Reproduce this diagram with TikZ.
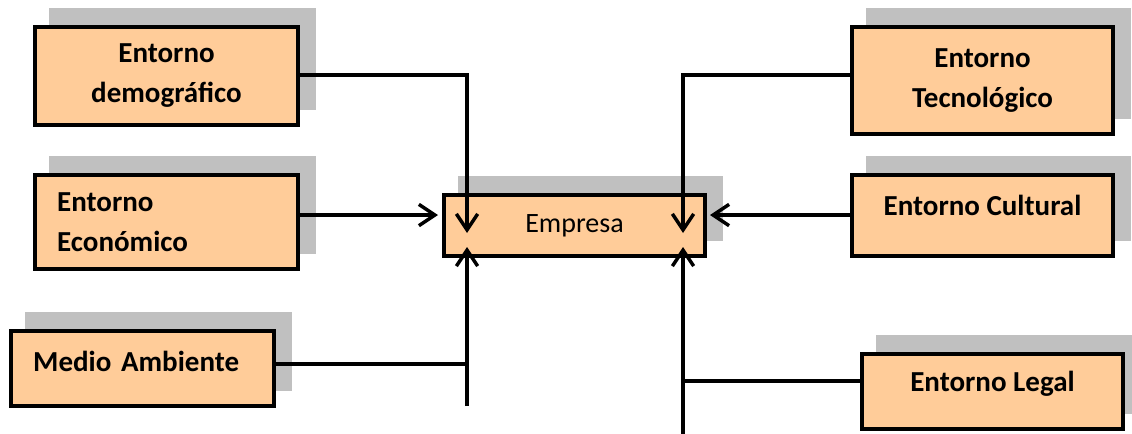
\documentclass[tikz,border=0pt]{standalone}
\usepackage{fontspec}
\setmainfont{Carlito}
\usetikzlibrary{arrows.meta,shadows}
\definecolor{boxfill}{HTML}{FFCC99}
\definecolor{shadowfill}{HTML}{C0C0C0}
\newcommand{\liftText}[2]{\raisebox{#1}[\height][\depth]{#2}}
\tikzset{
  envbox/.style={shape=rectangle, draw=black, fill=boxfill, line width=3.4pt,
    minimum width=197pt, inner sep=0pt,
    font=\fontsize{21.75}{30}\selectfont\bfseries,
    drop shadow={shadow xshift=12pt, shadow yshift=12.75pt, fill=shadowfill, draw=shadowfill, opacity=1}},
  leftbox/.style={envbox, align=left, text width=164pt},
  link/.style={line width=2.6pt},
  arrowlink/.style={link, -{Straight Barb[length=12pt,width=16pt]}}
}
\begin{document}
\begin{tikzpicture}[x=0.75pt,y=-0.75pt]
    \useasboundingbox (0,0) rectangle (1132,433);

    % boxes
    \node[envbox, minimum height=73.5pt, align=center] (demo) at (166.5,76) {Entorno\\demográfico};
    \node[leftbox, minimum height=70.5pt] (econ) at (166.5,222) {Entorno\\Económico};
    \node[leftbox, minimum height=56.25pt] (medio) at (142.5,368.5) {\liftText{5.25pt}{Medio Ambiente}};
    \node[envbox, minimum width=196pt, minimum height=45.75pt, font=\fontsize{21}{30}\selectfont] (empresa) at (574.5,225.5) {Empresa};
    \node[envbox, minimum width=196pt, minimum height=80.25pt, align=center] (tecno) at (982.5,80.5) {Entorno\\Tecnológico};
    \node[envbox, minimum width=196pt, minimum height=60.75pt] (cult) at (982.5,215.5) {\liftText{7.5pt}{Entorno Cultural}};
    \node[envbox, minimum width=196pt, minimum height=56.25pt] (legal) at (992.5,391.5) {\liftText{6pt}{Entorno Legal}};

    % bends and ends
    \coordinate (kL) at (467,75);
    \coordinate (dnL) at (467,233);
    \coordinate (upL) at (467,247);
    \coordinate (jL) at (467,364);
    \coordinate (botL) at (467,406);
    \coordinate (kR) at (683,75);
    \coordinate (dnR) at (683,233);
    \coordinate (upR) at (683,247);
    \coordinate (jR) at (683,381);
    \coordinate (botR) at (683,436);
    \coordinate (inW) at (438,215);
    \coordinate (inE) at (710,215);

    % connectors
    \draw[arrowlink] (demo.east |- kL) -- (kL) -- (dnL);
    \draw[arrowlink] (econ.east |- inW) -- (inW);
    \draw[link] (medio.east |- jL) -- (jL);
    \draw[arrowlink] (botL) -- (upL);
    \draw[arrowlink] (tecno.west |- kR) -- (kR) -- (dnR);
    \draw[arrowlink] (cult.west |- inE) -- (inE);
    \draw[link] (legal.west |- jR) -- (jR);
    \draw[arrowlink] (botR) -- (upR);
\end{tikzpicture}
\end{document}
